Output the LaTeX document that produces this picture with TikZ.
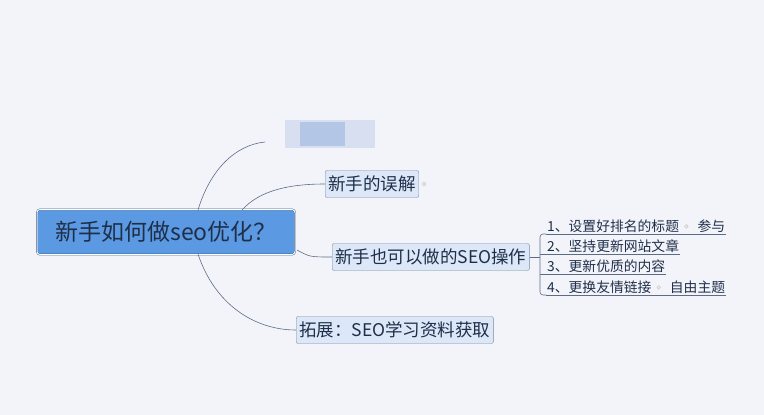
\documentclass[tikz,border=0pt]{standalone}
\usepackage{fontspec}
\setmainfont{Noto Sans CJK SC}
\usetikzlibrary{positioning}
\definecolor{bgc}{HTML}{F3F4FA}
\definecolor{rootc}{HTML}{5B9AE2}
\definecolor{subc}{HTML}{DCE8F8}
\definecolor{linec}{HTML}{5A6C88}
\definecolor{txtc}{HTML}{1F2F4A}
\definecolor{blurc}{HTML}{B4C6E6}
\tikzset{
  topic/.style={draw=linec!80, fill=subc, rounded corners=2pt, inner xsep=3pt, minimum height=27pt, text=txtc, font=\fontsize{17.5}{17.5}\selectfont, anchor=west},
  item/.style={text=txtc, font=\fontsize{13.8}{13.8}\selectfont, anchor=south west, inner sep=1pt},
  branch/.style={draw=linec, line width=0.6pt},
  dot/.style={circle, draw=gray!50, fill=gray!15, inner sep=1.3pt}
}
\begin{document}
\begin{tikzpicture}[x=1pt, y=-1pt]
    \fill[bgc] (0,0) rectangle (764,415);
    \useasboundingbox (0,0) rectangle (764,415);
    % Root
    \node[draw=rootc!60!black, double=white, double distance=1pt, fill=rootc, rounded corners=3pt, minimum width=258pt, minimum height=45pt, text=txtc, font=\fontsize{23}{23}\selectfont] (root) at (166,232) {新手如何做seo优化？};
    % Blurred topic
    \fill[blurc!45!bgc] (285,120) rectangle (375,148);
    \fill[blurc] (300,122) rectangle (345,146);
    \coordinate (blur) at (265,142);
    % Topics
    \node[topic] (myth) at (325,184) {新手的误解};
    \node[dot, right=3pt of myth] (mythdot) {};
    \node[topic] (ops) at (332,257) {新手也可以做的SEO操作};
    \node[topic] (ext) at (296,330) {拓展：SEO学习资料获取};
    % Branches
    \draw[branch] (198,210) .. controls (210,170) and (235,145) .. (blur);
    \draw[branch] (242,210) .. controls (260,190) and (290,184) .. (myth.west);
    \draw[branch] (297,250) .. controls (310,257) .. (ops.west);
    \draw[branch] (198,254) .. controls (215,305) and (255,330) .. (ext.west);
    % Operations
    \node[item] (op1) at (546,234) {1、设置好排名的标题};
    \node[dot, right=4pt of op1] (op1dot) {};
    \node[item, anchor=west, right=8pt of op1dot] (op1tag) {参与};
    \node[item] (op2) at (546,254) {2、坚持更新网站文章};
    \node[item] (op3) at (546,274) {3、更新优质的内容};
    \node[item] (op4) at (546,295) {4、更换友情链接};
    \node[dot, right=4pt of op4] (op4dot) {};
    \node[item, anchor=west, right=8pt of op4dot] (op4tag) {自由主题};
    \coordinate (fork) at (540,257);
    \draw[branch] (ops.east) -- (fork);
    \draw[branch, rounded corners=3pt] (op1.south west) -| (fork) |- (op4.south west);
    \draw[branch] (fork |- op2.south) -- (op2.south west);
    \draw[branch] (fork |- op3.south) -- (op3.south west);
    \draw[branch] (op1.south west) -- (op1tag.east |- op1.south);
    \draw[branch] (op2.south west) -- (op2.south east);
    \draw[branch] (op3.south west) -- (op3.south east);
    \draw[branch] (op4.south west) -- (op4tag.east |- op4.south);
\end{tikzpicture}
\end{document}
